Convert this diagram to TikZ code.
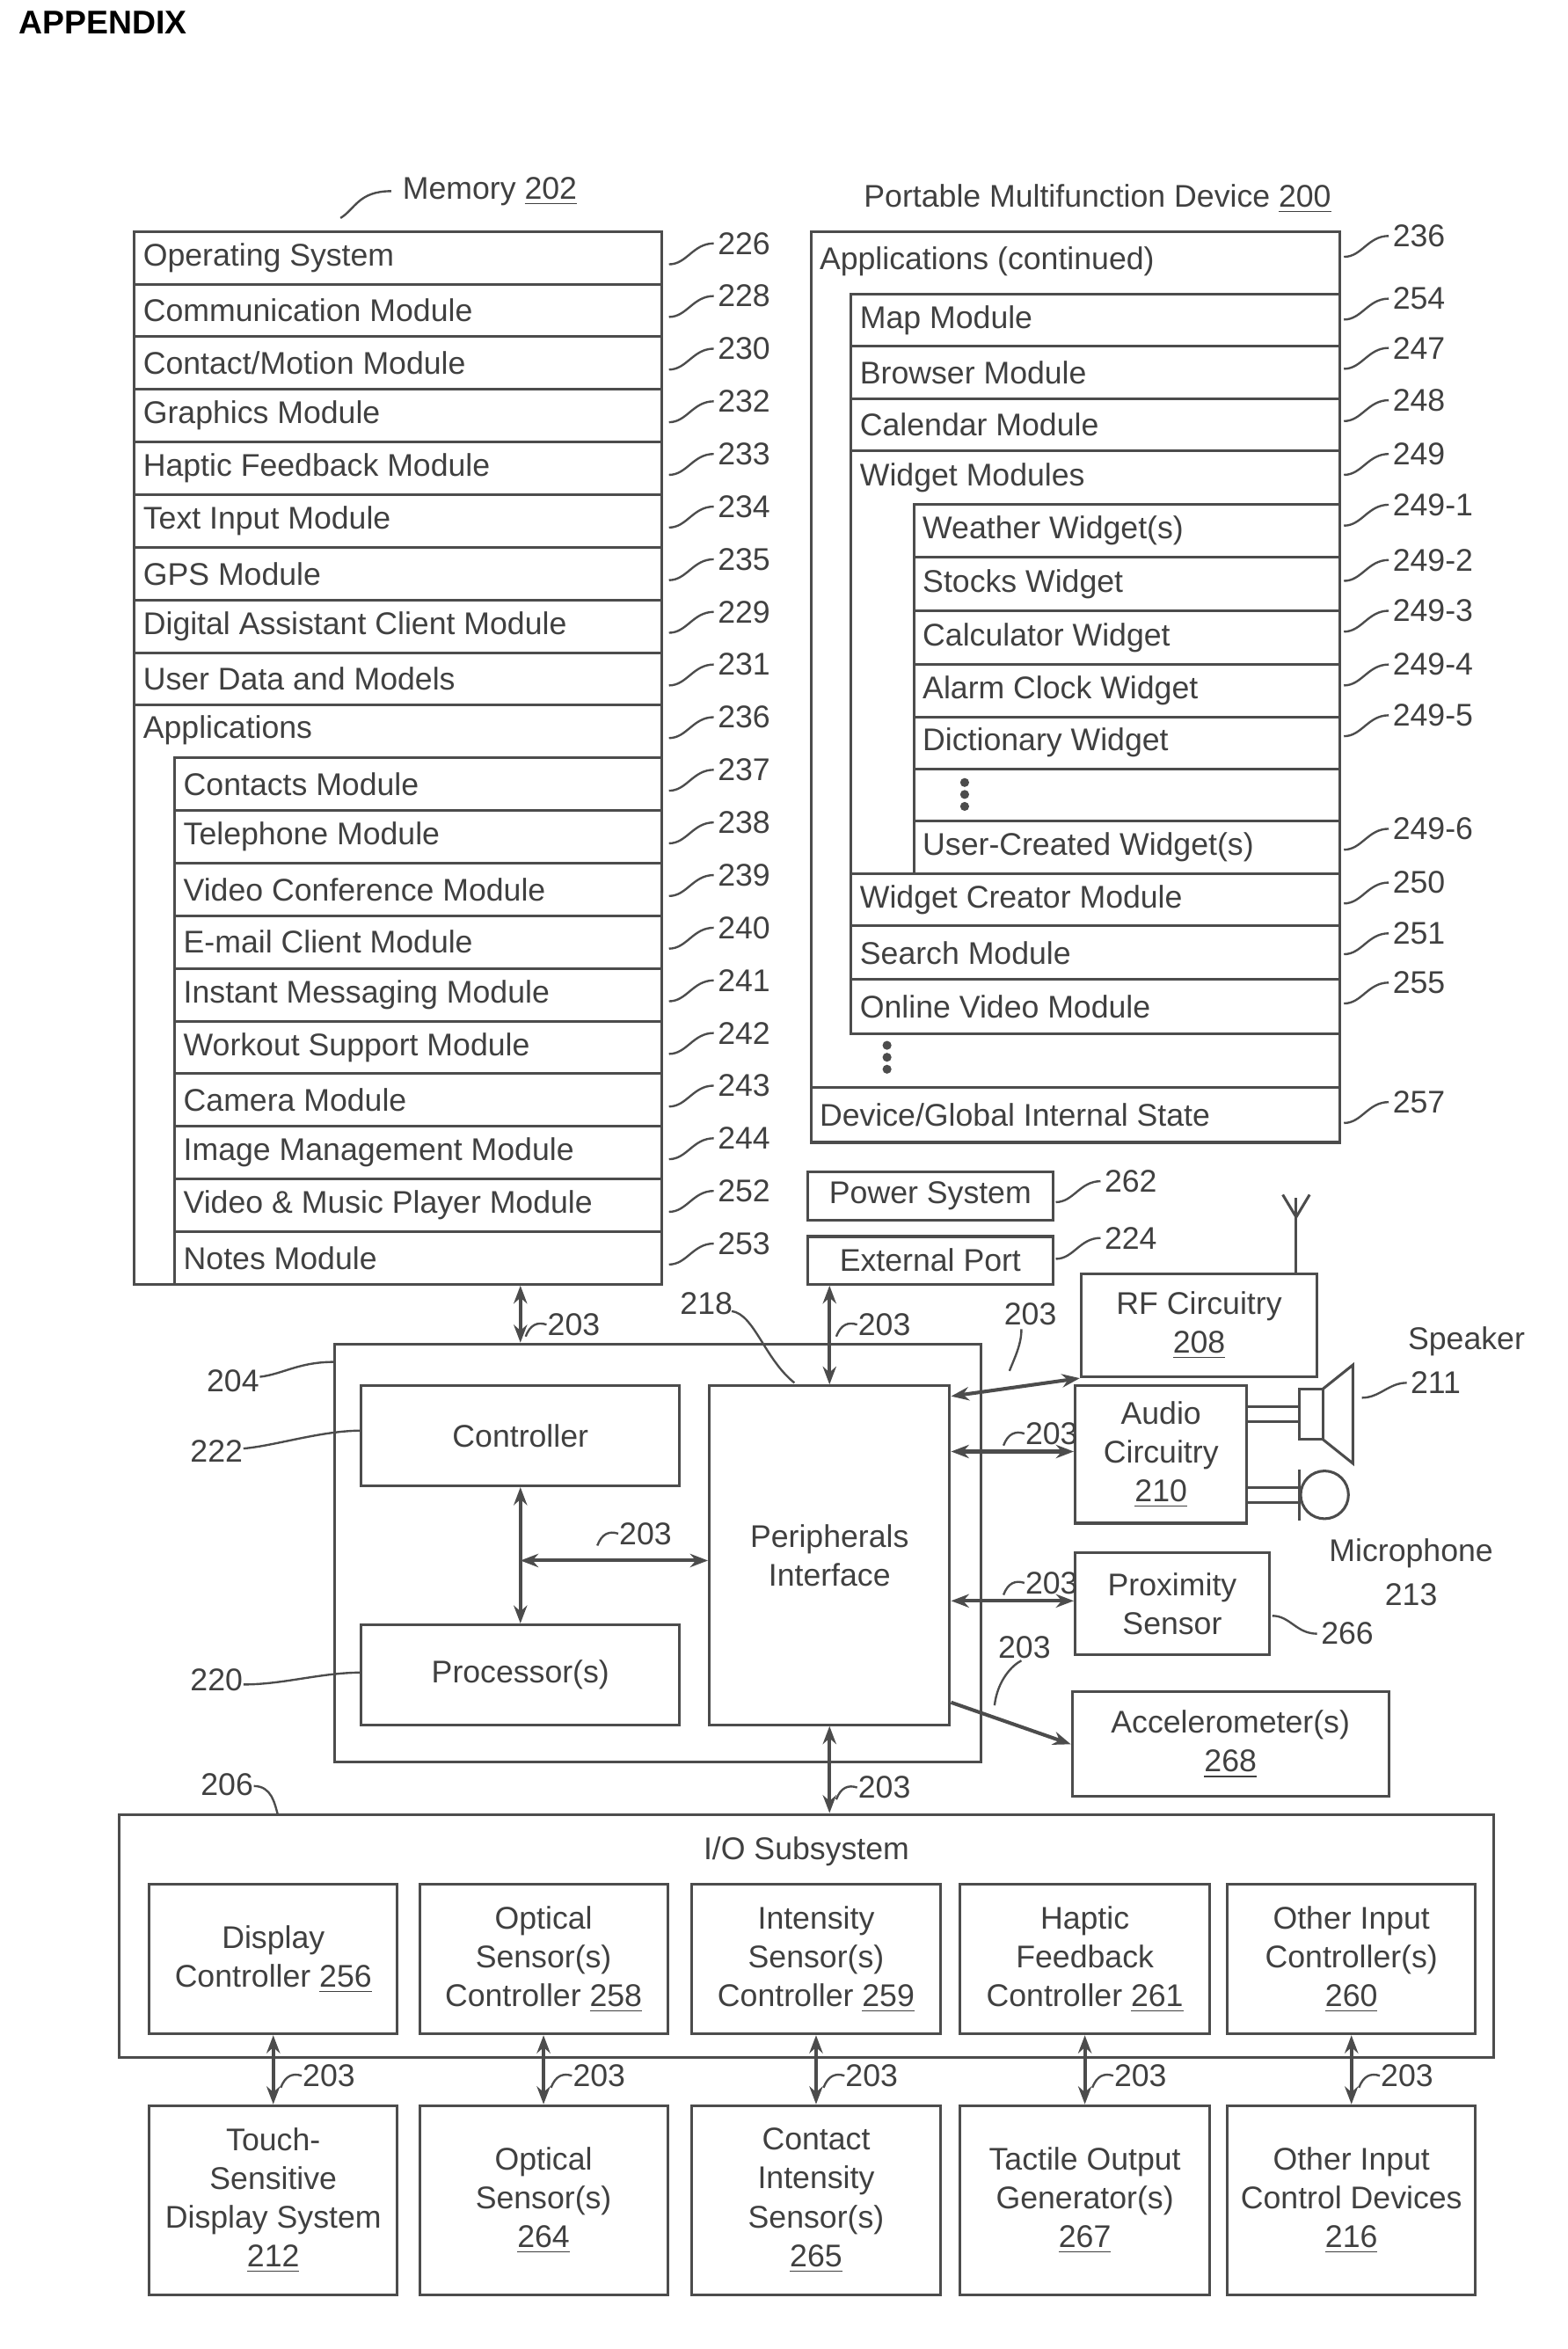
\documentclass[tikz,border=0pt]{standalone}
\usepackage{fontspec}
\setmainfont{Liberation Sans}
\usetikzlibrary{arrows.meta}
\begin{document}
\begin{tikzpicture}[x=0.5pt,y=-0.5pt,line width=0.9pt,draw=black!70,text=black!75,
  box/.style={draw,inner sep=0pt,align=center,font=\fontsize{10.5}{13}\selectfont},
  lbl/.style={font=\fontsize{10.5}{12}\selectfont,inner sep=1pt},
  dbl/.style={{Stealth[length=6pt]}-{Stealth[length=6pt]},line width=1.2pt},
  one/.style={-{Stealth[length=6pt]},line width=1.2pt}]
\useasboundingbox (0,0) rectangle (1050,1573);
\newcommand\bx[6]{\node[box,minimum width={(#4-#2)*0.5pt},minimum height={(#5-#3)*0.5pt}] (#1) at ({(#2+#4)/2},{(#3+#5)/2}) {#6};}
\newcommand\rw[6]{\node[box,minimum width={(#4-#2)*0.5pt},minimum height={(#5-#3)*0.5pt}] (#1) at ({(#2+#4)/2},{(#3+#5)/2}) {};\node[lbl,anchor=west] at (#2+3,{(#3+#5)/2}) {#6};}
\newcommand\ld[3]{\draw[line width=0.7pt] (#1,#2) .. controls (#1+12,#2) and (#1+16,#2-14) .. (#1+30,#2-14) node[lbl,right]{#3};}
\newcommand\hk[2]{\draw[line width=0.7pt] (#1,#2) .. controls (#1+3,#2-8) and (#1+8,#2-10) .. (#1+14,#2-8) node[lbl,right,inner sep=0pt]{203};}
\newcommand\vd[2]{\foreach \k in {0,8,16}{\fill[black!70] (#1,#2+\k) circle[radius=3];}}
\node[anchor=west,font=\bfseries\fontsize{11}{13}\selectfont,text=black] (app) at (5,15) {APPENDIX};
% Memory
\bx{mem}{90}{155}{443}{860}{}
\node[lbl] (memt) at (328,128) {Memory \underline{202}};
\draw[line width=0.7pt] (228,146) .. controls (238,140) and (240,128) .. (262,128);
\foreach \i/\t/\n in {0/Operating System/226,1/Communication Module/228,2/{Contact/Motion Module}/230,3/Graphics Module/232,4/Haptic Feedback Module/233,5/Text Input Module/234,6/GPS Module/235,7/Digital Assistant Client Module/229,8/User Data and Models/231,9/Applications/236,10/Contacts Module/237,11/Telephone Module/238,12/Video Conference Module/239,13/E-mail Client Module/240,14/Instant Messaging Module/241,15/Workout Support Module/242,16/Camera Module/243,17/Image Management Module/244,18/Video \& Music Player Module/252,19/Notes Module/253}{
  \pgfmathsetmacro\tp{155+35.25*\i}\pgfmathsetmacro\bt{155+35.25*(\i+1)}
  \ifnum\i<9 \rw{m\i}{90}{\tp}{443}{\bt}{\t}\fi
  \ifnum\i=9 \node[lbl,anchor=west] (m9) at (93,{\tp+17}) {\t};\fi
  \ifnum\i>9 \rw{m\i}{117}{\tp}{443}{\bt}{\t}\fi
  \ld{448}{\tp+22}{\n}
}
% Right column
\node[lbl] (pmd) at (735,133) {Portable Multifunction Device \underline{200}};
\bx{appc}{543}{155}{897}{765}{}
\node[lbl,anchor=west] (appct) at (546,175) {Applications (continued)};
\ld{900}{172}{236}
\rw{map}{570}{197}{897}{232}{Map Module}\ld{900}{214}{254}
\rw{brw}{570}{232}{897}{267}{Browser Module}\ld{900}{247}{247}
\rw{cal}{570}{267}{897}{302}{Calendar Module}\ld{900}{282}{248}
\bx{wm}{570}{302}{897}{585}{}
\node[lbl,anchor=west] (wmt) at (573,320) {Widget Modules};\ld{900}{318}{249}
\rw{w1}{612}{338}{897}{373}{Weather Widget(s)}\ld{900}{352}{249-1}
\rw{w2}{612}{373}{897}{409}{Stocks Widget}\ld{900}{389}{249-2}
\rw{w3}{612}{409}{897}{445}{Calculator Widget}\ld{900}{423}{249-3}
\rw{w4}{612}{445}{897}{480}{Alarm Clock Widget}\ld{900}{459}{249-4}
\rw{w5}{612}{480}{897}{515}{Dictionary Widget}\ld{900}{493}{249-5}
\bx{w6}{612}{515}{897}{550}{}
\vd{646}{524}
\rw{w7}{612}{550}{897}{585}{User-Created Widget(s)}\ld{900}{569}{249-6}
\rw{wc}{570}{585}{897}{620}{Widget Creator Module}\ld{900}{605}{250}
\rw{srch}{570}{620}{897}{656}{Search Module}\ld{900}{639}{251}
\rw{ov}{570}{656}{897}{692}{Online Video Module}\ld{900}{672}{255}
\vd{594}{700}
\rw{dev}{543}{728}{897}{765}{Device/Global Internal State}\ld{900}{752}{257}
% power/ext
\bx{pwr}{541}{785}{705}{817}{Power System}\ld{707}{805}{262}
\bx{ext}{541}{828}{705}{860}{External Port}\ld{707}{843}{224}
% main block
\bx{outer}{224}{900}{657}{1180}{}
\bx{ctl}{242}{928}{455}{995}{Controller}
\bx{proc}{242}{1088}{455}{1155}{Processor(s)}
\bx{pi}{475}{928}{636}{1155}{Peripherals\\Interface}
\bx{rf}{724}{853}{882}{922}{RF Circuitry\\\underline{208}}
\bx{aud}{720}{928}{835}{1020}{Audio\\Circuitry\\\underline{210}}
\bx{prox}{720}{1040}{850}{1108}{Proximity\\Sensor}
\bx{acc}{718}{1133}{930}{1203}{Accelerometer(s)\\\underline{268}}
\draw[line width=0.7pt] (852,1082) .. controls (864,1082) and (868,1094) .. (882,1094) node[lbl,right]{266};
% antenna
\draw (868,853) -- (868,802);
\draw (859,800) -- (868,815) -- (877,800);
% speaker
\draw (835,942) -- (870,942) (835,952) -- (870,952);
\draw (870,930) rectangle (886,964);
\draw (886,930) -- (906,914) -- (906,980) -- (886,964);
\node[lbl] (spk) at (982,898) {Speaker};
\draw[line width=0.7pt] (912,936) .. controls (924,936) and (930,926) .. (942,926) node[lbl,right]{211};
% microphone
\draw (835,996) -- (870,996) (835,1006) -- (870,1006);
\draw (870,984) -- (870,1018);
\draw (887,1001) circle[radius=16];
\node[lbl] (mic) at (945,1040) {Microphone};
\node[lbl] (mic2) at (945,1068) {213};
% side labels
\node[lbl] (l204) at (156,925) {204};\draw[line width=0.7pt] (174,922) .. controls (190,920) and (200,912) .. (224,912);
\node[lbl] (l222) at (145,972) {222};\draw[line width=0.7pt] (163,970) .. controls (185,968) and (215,958) .. (242,958);
\node[lbl] (l220) at (145,1125) {220};\draw[line width=0.7pt] (163,1128) .. controls (190,1128) and (215,1120) .. (242,1120);
\node[lbl] (l206) at (152,1195) {206};\draw[line width=0.7pt] (170,1196) .. controls (182,1196) and (184,1208) .. (186,1215);
\node[lbl] (l218) at (473,873) {218};\draw[line width=0.7pt] (490,878) .. controls (505,880) and (512,910) .. (532,926);
% connectors main
\draw[dbl] (mem.south -| ctl.north) -- (outer.north -| ctl.north);\hk{352}{895}
\draw[dbl] (ext.south -| pi.north) -- (pi.north);\hk{560}{895}
\coordinate (jn) at (ctl.south |- 0,1045);
\draw[dbl] (ctl.south) -- (proc.north);
\draw[dbl] (jn) -- (jn -| pi.west);\hk{400}{1035}
\draw[dbl] (pi.east |- 0,935) -- (rf.south west);
\node[lbl] (l203a) at (690,880) {203};
\draw[line width=0.7pt] (684,890) .. controls (684,900) and (680,908) .. (676,918);
\draw[dbl] (pi.east |- 0,972) -- (aud.west |- 0,972);\hk{672}{968}
\draw[dbl] (pi.east |- 0,1072) -- (prox.west |- 0,1072);\hk{672}{1068}
\draw[one] (pi.east |- 0,1140) -- (acc.west);
\draw[line width=0.7pt] (666,1142) .. controls (668,1125) and (678,1115) .. (684,1112);
\node[lbl] (l203b) at (686,1103) {203};
% IO
\bx{io}{80}{1215}{1000}{1378}{}
\node[lbl] (iot) at (540,1240) {I/O Subsystem};
\draw[dbl] (pi.south) -- (io.north -| pi.south);\hk{560}{1205}
\foreach \n/\a/\b/\t/\u in {d/100/266/{Display\\Controller \underline{256}}/{Touch-\\Sensitive\\Display System\\\underline{212}},
 o/281/447/{Optical\\Sensor(s)\\Controller \underline{258}}/{Optical\\Sensor(s)\\\underline{264}},
 i/463/630/{Intensity\\Sensor(s)\\Controller \underline{259}}/{Contact\\Intensity\\Sensor(s)\\\underline{265}},
 h/643/810/{Haptic\\Feedback\\Controller \underline{261}}/{Tactile Output\\Generator(s)\\\underline{267}},
 x/822/988/{Other Input\\Controller(s)\\\underline{260}}/{Other Input\\Control Devices\\\underline{216}}}{
  \bx{c\n}{\a}{1262}{\b}{1362}{\t}
  \bx{b\n}{\a}{1410}{\b}{1537}{\u}
  \draw[dbl] (c\n.south) -- (b\n.north);
  \pgfmathsetmacro\hx{(\a+\b)/2+5}
  \hk{\hx}{1398}
}
\end{tikzpicture}
\end{document}
